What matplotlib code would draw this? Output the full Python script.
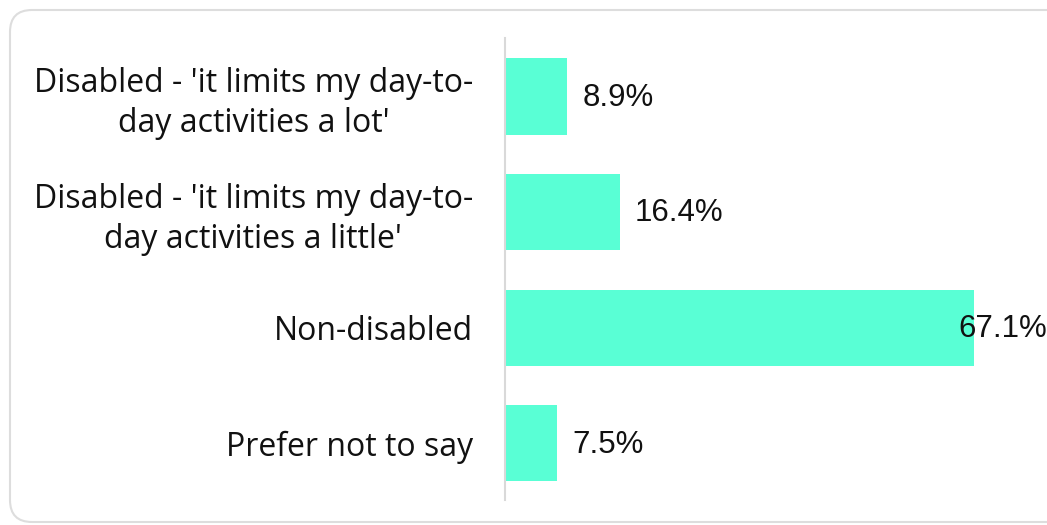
import matplotlib.pyplot as plt
from matplotlib.patches import FancyBboxPatch

categories = [
    "Disabled - 'it limits my day-to-\nday activities a lot'",
    "Disabled - 'it limits my day-to-\nday activities a little'",
    "Non-disabled",
    "Prefer not to say",
]
values = [8.9, 16.4, 67.1, 7.5]
value_labels = ["8.9%", "16.4%", "67.1%", "7.5%"]

bar_color = "#59FFD5"

fig = plt.figure(figsize=(10.47, 5.25), dpi=100)

# rounded card outline (pixel coordinates)
card = FancyBboxPatch((10, 3), 1080, 512, boxstyle="round,pad=0,rounding_size=22",
                      transform=None, facecolor="none", edgecolor="#DDDDDD",
                      linewidth=1.5, zorder=-1)
fig.patches.append(card)

ax = fig.add_axes([505 / 1047, 25 / 525, 542 / 1047, 462 / 525])
ax.patch.set_alpha(0)

ypos = list(range(len(categories)))
ax.barh(ypos, values, height=0.66, color=bar_color, zorder=2)

ax.set_xlim(0, 542 / 6.99)
ax.set_ylim(3.49, -0.505)

ax.set_yticks(ypos)
ax.set_yticklabels(categories, fontsize=23, family="Open Sans", color="#111111",
                   linespacing=1.27)
for lbl in ax.get_yticklabels():
    lbl.set_multialignment("center")
ax.tick_params(axis="y", length=0, pad=23)
ax.set_xticks([])

for s in ["top", "right", "bottom"]:
    ax.spines[s].set_visible(False)
ax.spines["left"].set_color("#D9D9D9")
ax.spines["left"].set_linewidth(1.5)

# value labels, kept inside the card for long bars
for y, v, txt in zip(ypos, values, value_labels):
    ax.annotate(txt, xy=(min(v, 62.7), y), xytext=(11, -1), textcoords="offset points",
                va="center", ha="left", fontsize=22.5, family="Liberation Sans",
                color="#111111", annotation_clip=False, zorder=3)

fig.savefig("out.png", dpi=100)
